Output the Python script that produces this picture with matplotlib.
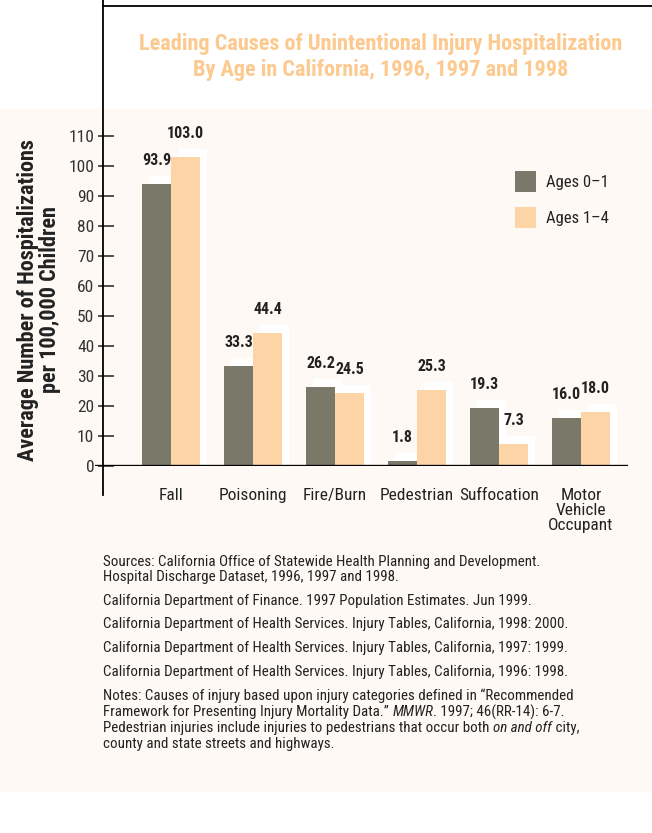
import matplotlib
matplotlib.use('Agg')
import matplotlib.pyplot as plt
from matplotlib import font_manager
from matplotlib.patches import Rectangle
from matplotlib.lines import Line2D
import numpy as np

available = {f.name for f in font_manager.fontManager.ttflist}
narrow = 'Roboto'
for cand in ['Liberation Sans Narrow', 'Roboto Condensed', 'Open Sans Condensed', 'Arial Narrow']:
    if cand in available:
        narrow = cand
        break
plt.rcParams['font.family'] = [narrow, 'DejaVu Sans']

categories = ['Fall', 'Poisoning', 'Fire/Burn', 'Pedestrian', 'Suffocation', 'Motor\nVehicle\nOccupant']
ages_0_1 = [93.9, 33.3, 26.2, 1.8, 19.3, 16.0]
ages_1_4 = [103.0, 44.4, 24.5, 25.3, 7.3, 18.0]
series_names = ['Ages 0\u20131', 'Ages 1\u20134']
yticks = [0, 10, 20, 30, 40, 50, 60, 70, 80, 90, 100, 110]

dark = '#7a7868'
peach = '#fcd4a6'
cream = '#fef9f5'
title_col = '#fcc98f'
txt = '#222222'

W, H = 652, 833
fig = plt.figure(figsize=(W / 100, H / 100), dpi=100)
fig.patch.set_facecolor('white')

def fx(px):
    return px / W

def fy(py):
    return 1 - py / H

# cream panel
fig.patches.append(Rectangle((0, fy(792)), 1, fy(109) - fy(792), transform=fig.transFigure,
                             facecolor=cream, edgecolor='none', zorder=-2))
# frame lines
fig.lines.append(Line2D([fx(103), 1], [fy(6), fy(6)], transform=fig.transFigure, color='black', lw=1.3))
fig.lines.append(Line2D([fx(103), fx(103)], [1, fy(495)], transform=fig.transFigure, color='black', lw=1.3, zorder=5))

fig.text(fx(381), fy(57), 'Leading Causes of Unintentional Injury Hospitalization\nBy Age in California, 1996, 1997 and 1998',
         ha='center', va='center', color=title_col, fontsize=16, fontweight='bold', linespacing=1.25)

ax = fig.add_axes([fx(95), fy(466), fx(628) - fx(95), fy(136) - fy(466)])
ax.set_facecolor('none')
ax.set_xlim(-0.927, 5.573)
ax.set_ylim(0, 110)

x = np.arange(len(categories))
bw = 29 / 82
dx = 7 / 82
dy = 8 / 3

# white shadow boxes
ax.bar(x - bw / 2 + dx, np.array(ages_0_1) + dy, width=bw, color='white', zorder=1)
ax.bar(x + bw / 2 + dx, np.array(ages_1_4) + dy, width=bw, color='white', zorder=1)
b1 = ax.bar(x - bw / 2, ages_0_1, width=bw, color=dark, zorder=2, label=series_names[0])
b2 = ax.bar(x + bw / 2, ages_1_4, width=bw, color=peach, zorder=2, label=series_names[1])

for bars, vals in ((b1, ages_0_1), (b2, ages_1_4)):
    for r, v in zip(bars, vals):
        ax.annotate(f'{v:.1f}', (r.get_x() + r.get_width() / 2, v), xytext=(0, 11.5),
                    textcoords='offset points', ha='center', va='bottom',
                    fontsize=11.5, fontweight='bold', color=txt)

ax.axhline(0, color='black', lw=2.4, zorder=4)

for s in ['top', 'right', 'bottom']:
    ax.spines[s].set_visible(False)
ax.spines['left'].set_position(('outward', -8))
ax.spines['left'].set_visible(False)
ax.set_yticks(yticks)
ax.tick_params(axis='y', direction='inout', length=11, width=1.2, color='#333333',
               labelsize=12.5, labelcolor='#333333', pad=3)
ax.set_xticks(x)
ax.set_xticklabels(categories, fontsize=12.5, color=txt, va='top', linespacing=1.0)
ax.tick_params(axis='x', length=0, pad=16)

fig.text(fx(39), fy(300), 'Average Number of Hospitalizations\nper 100,000 Children', rotation=90,
         ha='center', va='center', fontsize=16, fontweight='bold', color=txt, linespacing=1.0)

# legend
for i, (name, col) in enumerate(zip(series_names, [dark, peach])):
    top = 171 + 36 * i
    fig.patches.append(Rectangle((fx(515), fy(top + 21)), fx(21), 21 / H, transform=fig.transFigure,
                                 facecolor=col, edgecolor='none'))
    fig.text(fx(546), fy(top + 11), name, ha='left', va='center', fontsize=12, color=txt)

# notes
note_lines = [
    (562, [('Sources: California Office of Statewide Health Planning and Development.', 'normal')]),
    (577, [('Hospital Discharge Dataset, 1996, 1997 and 1998.', 'normal')]),
    (601, [('California Department of Finance. 1997 Population Estimates. Jun 1999.', 'normal')]),
    (624, [('California Department of Health Services. Injury Tables, California, 1998: 2000.', 'normal')]),
    (648, [('California Department of Health Services. Injury Tables, California, 1997: 1999.', 'normal')]),
    (672, [('California Department of Health Services. Injury Tables, California, 1996: 1998.', 'normal')]),
    (696, [('Notes: Causes of injury based upon injury categories defined in \u201cRecommended', 'normal')]),
    (712, [('Framework for Presenting Injury Mortality Data.\u201d ', 'normal'), ('MMWR', 'italic'),
           ('. 1997; 46(RR-14): 6-7.', 'normal')]),
    (728, [('Pedestrian injuries include injuries to pedestrians that occur both ', 'normal'),
           ('on and off', 'italic'), (' city,', 'normal')]),
    (744, [('county and state streets and highways.', 'normal')]),
]
renderer = fig.canvas.get_renderer()
for yy, parts in note_lines:
    xpos = 103
    for s, style in parts:
        t = fig.text(fx(xpos), fy(yy), s, ha='left', va='center', fontsize=10.8, style=style, color=txt)
        xpos += t.get_window_extent(renderer).width

fig.savefig('out.png', dpi=100, facecolor=fig.get_facecolor())
